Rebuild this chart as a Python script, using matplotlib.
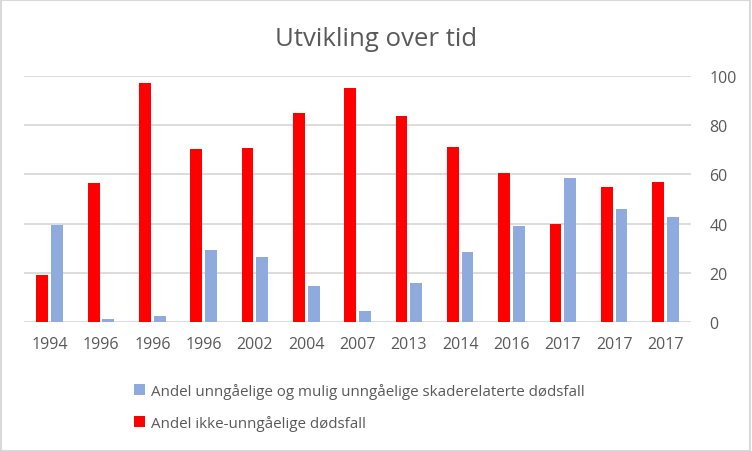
import matplotlib
matplotlib.use("Agg")
import matplotlib.pyplot as plt
import numpy as np
from matplotlib.patches import Patch, Rectangle

categories = ["1994", "1996", "1996", "1996", "2002", "2004", "2007",
              "2013", "2014", "2016", "2017", "2017", "2017"]
ikke_unngaelige = [19.0, 56.5, 97.3, 70.4, 70.8, 85.1, 95.2,
                   83.8, 71.2, 60.6, 39.9, 54.9, 56.9]
unngaelige = [39.5, 1.1, 2.3, 29.2, 26.4, 14.5, 4.3,
              15.8, 28.4, 39.0, 58.6, 45.9, 42.7]

label_blue = "Andel unngåelige og mulig unngåelige skaderelaterte dødsfall"
label_red = "Andel ikke-unngåelige dødsfall"
title = "Utvikling over tid"

red = "#ff0000"
blue = "#8faadc"
txt = "#595959"
grid = "#d9d9d9"

plt.rcParams['font.family'] = ['Open Sans', 'DejaVu Sans']

fig = plt.figure(figsize=(7.52, 4.52), dpi=100)
ax = fig.add_axes([0.032, 0.286, 0.887, 0.543])

x = np.arange(len(categories))
w = 0.23
ax.bar(x - 0.144, ikke_unngaelige, width=w, color=red, zorder=3)
ax.bar(x + 0.143, unngaelige, width=w, color=blue, zorder=3)

ax.set_xlim(-0.5, len(categories) - 0.5)
ax.set_ylim(0, 100)
ax.set_yticks(range(0, 101, 20))
ax.yaxis.tick_right()
ax.set_xticks(x)
ax.set_xticklabels(categories)
ax.tick_params(axis='y', length=0, pad=13, labelsize=11.5, labelcolor=txt)
ax.tick_params(axis='x', length=0, pad=10, labelsize=11.5, labelcolor=txt)
for t in ax.get_yticklabels():
    t.set_horizontalalignment('left')
ax.grid(axis='y', color=grid, linewidth=1.3, zorder=0)
for s in ax.spines.values():
    s.set_visible(False)

fig.text(0.5, 0.913, title, ha='center', va='center', fontsize=18.5, color=txt)

handles = [Patch(facecolor=blue), Patch(facecolor=red)]
fig.legend(handles, [label_blue, label_red], loc='upper left',
           bbox_to_anchor=(0.168, 0.168), frameon=False, fontsize=10.9,
           labelcolor=txt, handlelength=0.7, handleheight=0.7,
           handletextpad=0.4, labelspacing=1.05, borderpad=0)

fig.patches.append(Rectangle((0.001, 0.001), 0.997, 0.997, transform=fig.transFigure,
                             fill=False, edgecolor=grid, linewidth=1.5))

fig.savefig("out.png", dpi=100, facecolor="white")
